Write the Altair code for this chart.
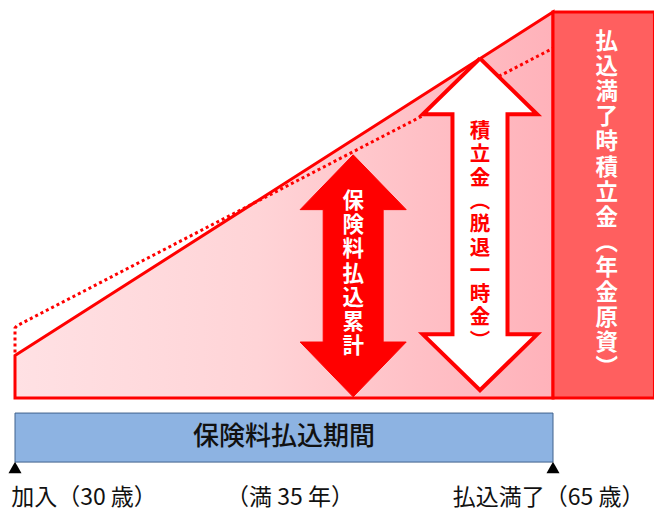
import altair as alt
import pandas as pd

# ---------------- data (age on x, accumulated share on y) ----------------
start_age = 30
end_age = 65
pay_years = 35

premium_ages = [30, 65]          # solid line: premium total
premium_vals = [11, 100]

dotted_ages = [30, 30, 30.12, 65]   # dotted line: reserve
dotted_vals = [11.8, 18.1, 18.7, 90.6]

box_ages = [65, 71.6]            # right box: reserve at end of payment
box_vals = [0, 100]

bar_ages = [30, 65]              # payment period bar
bar_vals = [-3.9, -16.6]

# double arrows: centre age, top value, bottom value, head length, head half-width, shaft half-width
arrow_red = dict(c=52.0, top=63.0, bot=0.3, head=14.2, hw=3.45, sw=1.95)
arrow_white = dict(c=60.25, top=88.0, bot=2.0, head=14.5, hw=3.72, sw=1.79)

red_arrow_text = "保険料払込累計"
white_arrow_text = "積立金︵脱退一時金︶"
box_text = "払込満了時積立金︵年金原資︶"
bar_text = "保険料払込期間"

bottom_labels = ["加入（30 歳）", "（満 35 年）", "払込満了（65 歳）"]
bottom_label_ages = [34.49, 47.89, 64.71]
marker_ages = [30, 65]

# ---------------- layout (pixel mapping) ----------------
W, H = 646, 504
PX_YEAR = 538 / 35
PX_UNIT = 3.86
X0 = 30 - 7 / PX_YEAR
X1 = X0 + W / PX_YEAR
Y1 = (398 - 8) / PX_UNIT
Y0 = Y1 - H / PX_UNIT

xs = alt.Scale(domain=[X0, X1], nice=False, zero=False)
ys = alt.Scale(domain=[Y0, Y1], nice=False, zero=False)
FONT = "Noto Sans CJK JP"


def X(f, **kw):
    return alt.X(f, type="quantitative", scale=xs, axis=None, **kw)


def Y(f, **kw):
    return alt.Y(f, type="quantitative", scale=ys, axis=None, **kw)


def arrow_df(a):
    c, t, b, h, hw, sw = a["c"], a["top"], a["bot"], a["head"], a["hw"], a["sw"]
    pts = [
        (c, t),
        (c + hw, t - h),
        (c + sw, t - h),
        (c + sw, b + h),
        (c + hw, b + h),
        (c, b),
        (c - hw, b + h),
        (c - sw, b + h),
        (c - sw, t - h),
        (c - hw, t - h),
        (c, t),
    ]
    return pd.DataFrame([{"a": x, "v": y, "o": i} for i, (x, y) in enumerate(pts)])


area_df = pd.DataFrame({"age": premium_ages, "val": premium_vals})
dot_df = pd.DataFrame(
    {"age": dotted_ages, "val": dotted_vals, "o": list(range(len(dotted_ages)))}
)
box_df = pd.DataFrame([{"a": box_ages[0], "a2": box_ages[1], "v": box_vals[0], "v2": box_vals[1]}])
bar_df = pd.DataFrame([{"a": bar_ages[0], "a2": bar_ages[1], "v": bar_vals[0], "v2": bar_vals[1]}])

grad = alt.LinearGradient(
    gradient="linear",
    stops=[
        alt.GradientStop(color="#FFE1E4", offset=0),
        alt.GradientStop(color="#FFD4D7", offset=0.45),
        alt.GradientStop(color="#FFC0C6", offset=0.75),
        alt.GradientStop(color="#FFB2BA", offset=1),
    ],
    x1=0, x2=1, y1=0, y2=0,
)

main_area = alt.Chart(area_df).mark_area(
    fill=grad, stroke="#FF0000", strokeWidth=3
).encode(x=X("age"), y=Y("val"), y2=alt.Y2(datum=0))

dotted = alt.Chart(dot_df).mark_line(
    color="#FF0000", strokeWidth=3, strokeDash=[3, 3]
).encode(x=X("age"), y=Y("val"), order="o:O")

box = alt.Chart(box_df).mark_rect(
    fill="#FF5F5F", stroke="#FF0000", strokeWidth=3
).encode(x=X("a"), x2="a2", y=Y("v"), y2="v2")

bar = alt.Chart(bar_df).mark_rect(
    fill="#8DB3E2", stroke="#41628D", strokeWidth=1
).encode(x=X("a"), x2="a2", y=Y("v"), y2="v2")

red_arrow = alt.Chart(arrow_df(arrow_red)).mark_line(
    fill="#FF0000", stroke="#FF0000", strokeWidth=1, strokeJoin="miter"
).encode(x=X("a"), y=Y("v"), order="o:O")

white_arrow = alt.Chart(arrow_df(arrow_white)).mark_line(
    fill="#FFFFFF", stroke="#FF0000", strokeWidth=4, strokeJoin="miter"
).encode(x=X("a"), y=Y("v"), order="o:O")


def vtext(s, age, val_first, color, size, lh):
    df = pd.DataFrame([{"t": "\n".join(list(s)), "a": age, "v": val_first}])
    return alt.Chart(df).mark_text(
        font=FONT, fontWeight="bold", fontSize=size, lineBreak="\n",
        lineHeight=lh, color=color, baseline="middle", align="center",
    ).encode(x=X("a"), y=Y("v"), text="t:N")


red_txt = vtext(red_arrow_text, arrow_red["c"], 50.8, "#FFFFFF", 21.5, 24.2)
white_txt = vtext(white_arrow_text, arrow_white["c"], 68.9, "#FF0000", 20.5, 23.3)
box_txt = vtext(box_text, 68.5, 92.2, "#FFFFFF", 22.5, 25.1)

bar_label = alt.Chart(
    pd.DataFrame([{"t": bar_text, "a": (start_age + end_age) / 2, "v": -10.2}])
).mark_text(
    font=FONT, fontWeight=500, fontSize=26, color="#111111",
    baseline="middle", align="center",
).encode(x=X("a"), y=Y("v"), text="t:N")

markers = alt.Chart(pd.DataFrame({"a": marker_ages, "v": [-18.0] * len(marker_ages)})).mark_point(
    shape="triangle-up", filled=True, color="#000000", size=170, opacity=1
).encode(x=X("a"), y=Y("v"))

bottom = alt.Chart(
    pd.DataFrame({"t": bottom_labels, "a": bottom_label_ages, "v": [-25.8] * 3})
).mark_text(
    font=FONT, fontSize=23, color="#111111", baseline="middle", align="center"
).encode(x=X("a"), y=Y("v"), text="t:N")

chart = alt.layer(
    main_area, dotted, box, bar, red_arrow, white_arrow,
    red_txt, white_txt, box_txt, bar_label, markers, bottom,
).properties(
    width=W, height=H, padding=0, autosize=alt.AutoSizeParams(type="none"),
    background="#FFFFFF",
).configure_view(stroke=None)

chart.save("out.html", embed_options={"renderer": "svg", "actions": False})
